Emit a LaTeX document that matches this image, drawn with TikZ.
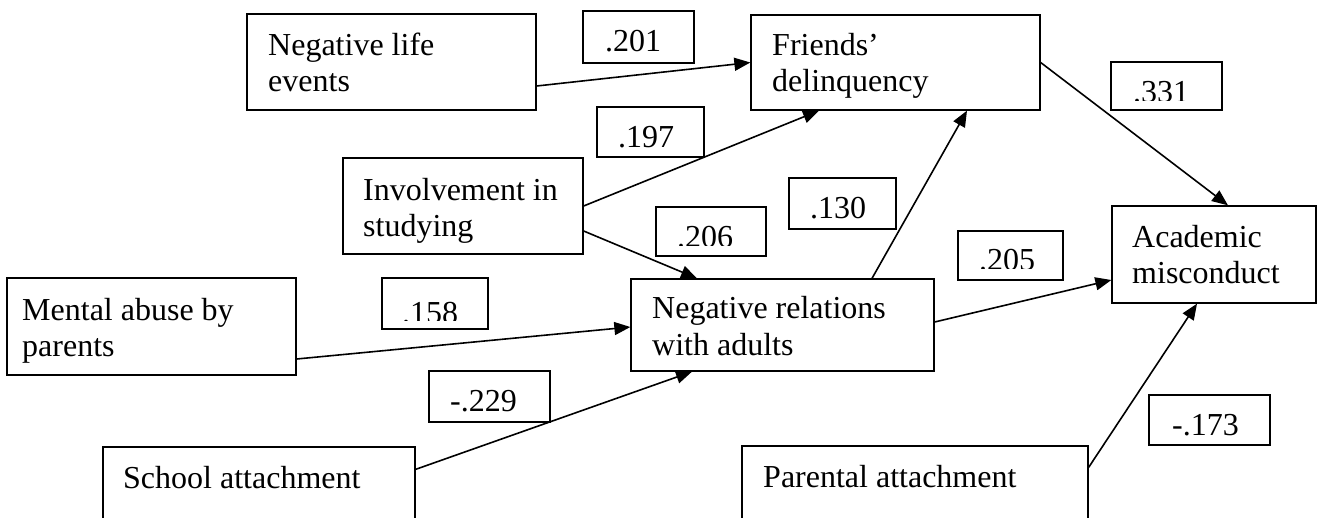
\documentclass[tikz,border=0pt]{standalone}
\usepackage{fontspec}
\setmainfont{Liberation Serif}
\usetikzlibrary{arrows.meta}
\tikzset{
  x=1pt, y={(0pt,-1pt)},
  box/.style={draw=black, line width=1.3pt, inner sep=0pt, fill=white},
  valbox/.style={draw=black, line width=1.3pt, inner sep=0pt},
  txt/.style={anchor=base west, inner sep=0pt, font=\fontsize{32}{36}\selectfont},
  link/.style={line width=1.6pt, -{Triangle[length=16pt,width=13pt]}}
}
\begin{document}
\begin{tikzpicture}
\useasboundingbox (0,0) rectangle (1317,517);
\fill[white] (0,0) rectangle (1317,517);
\clip (0,0) rectangle (1317,517);

% variable boxes
\node[box, minimum width=289pt, minimum height=96pt] (nle) at (391.5,62) {};
\node[txt] (nle-a) at (268,55) {Negative life};
\node[txt] (nle-b) at (268,91) {events};

\node[box, minimum width=289pt, minimum height=95pt] (fd) at (895.5,62.5) {};
\node[txt] (fd-a) at (772,55) {Friends’};
\node[txt] (fd-b) at (772,91) {delinquency};

\node[box, minimum width=240pt, minimum height=96pt] (inv) at (463,206) {};
\node[txt] (inv-a) at (363,200) {Involvement in};
\node[txt] (inv-b) at (363,236) {studying};

\node[box, minimum width=289pt, minimum height=97pt] (ma) at (151.5,326.5) {};
\node[txt] (ma-a) at (22,320) {Mental abuse by};
\node[txt] (ma-b) at (22,356) {parents};

\node[box, minimum width=303pt, minimum height=92pt] (nra) at (782.5,325) {};
\node[txt] (nra-a) at (652,318) {Negative relations};
\node[txt] (nra-b) at (652,355) {with adults};

\node[box, minimum width=204pt, minimum height=97pt] (am) at (1214,254.5) {};
\node[txt] (am-a) at (1132,247) {Academic};
\node[txt] (am-b) at (1132,283) {misconduct};

\node[box, minimum width=312pt, minimum height=113pt] (sa) at (259,503.5) {};
\node[txt] (sa-a) at (123,488) {School attachment};

\node[box, minimum width=346pt, minimum height=114pt] (pa) at (915,503) {};
\node[txt] (pa-a) at (763,487) {Parental attachment};

% coefficient boxes
\node[valbox, minimum width=111pt, minimum height=52pt] (v201) at (638.5,37) {};
\node[txt] (v201-t) at (605,51) {.201};

\node[valbox, minimum width=107pt, minimum height=50pt] (v197) at (650.5,132) {};
\node[txt] (v197-t) at (618,147) {.197};

\node[valbox, minimum width=107pt, minimum height=51pt] (v130) at (842.5,203.5) {};
\node[txt] (v130-t) at (810,218) {.130};

\node[valbox, minimum width=121pt, minimum height=50pt] (v173) at (1209.5,420) {};
\node[txt] (v173-t) at (1172,435) {-.173};

\node[valbox, minimum width=121pt, minimum height=51pt] (v229) at (489.5,396.5) {};
\node[txt] (v229-t) at (450,411) {-.229};

\node[valbox, minimum width=111pt, minimum height=48pt] (v331) at (1166.5,86) {};
\begin{scope}
  \clip (1111,62) rectangle (1222,100);
  \node[txt] (v331-t) at (1133,102) {.331};
\end{scope}

\node[valbox, minimum width=110pt, minimum height=49pt] (v206) at (711,231.5) {};
\begin{scope}
  \clip (656,207) rectangle (766,245);
  \node[txt] (v206-t) at (677,247) {.206};
\end{scope}

\node[valbox, minimum width=105pt, minimum height=49pt] (v205) at (1010.5,255.5) {};
\begin{scope}
  \clip (958,231) rectangle (1063,268);
  \node[txt] (v205-t) at (979,270) {.205};
\end{scope}

\node[valbox, minimum width=106pt, minimum height=51pt] (v158) at (435,303.5) {};
\begin{scope}
  \clip (382,278) rectangle (488,320);
  \node[txt] (v158-t) at (402,323) {.158};
\end{scope}

% connectors
\draw[link] ([yshift=-24pt]nle.east) -- (fd.west);
\draw[link] (inv.east) -- ([xshift=-76.5pt]fd.south);
\draw[link] ([yshift=-25pt]inv.east) -- ([xshift=-85.5pt]nra.north);
\draw[link] ([xshift=89.5pt]nra.north) -- ([xshift=71.5pt]fd.south);
\draw[link] (fd.east) -- ([xshift=14pt]am.north);
\draw[link] ([yshift=3pt]nra.east) -- ([yshift=-25.5pt]am.west);
\draw[link] ([yshift=-32.5pt]ma.east) -- ([yshift=-2pt]nra.west);
\draw[link] ([yshift=-23pt]sa.north east) -- ([xshift=-90.5pt]nra.south);
\draw[link] ([yshift=-22pt]pa.north east) -- ([xshift=-17pt]am.south);
\end{tikzpicture}
\end{document}
